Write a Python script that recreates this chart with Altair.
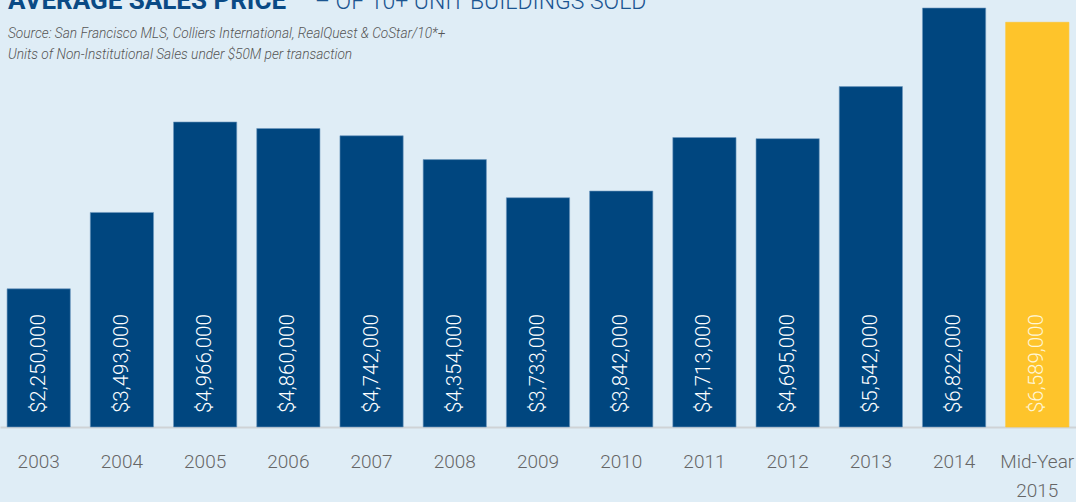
import altair as alt
import pandas as pd

categories = ["2003", "2004", "2005", "2006", "2007", "2008", "2009", "2010",
              "2011", "2012", "2013", "2014", "Mid-Year 2015"]
values = [2250000, 3493000, 4966000, 4860000, 4742000, 4354000, 3733000,
          3842000, 4713000, 4695000, 5542000, 6822000, 6589000]
labels = ["$" + format(v, ",") for v in values]

title_bold = "AVERAGE SALES PRICE"
title_light = "– OF 10+ UNIT BUILDINGS SOLD"
sub1 = "Source: San Francisco MLS, Colliers International, RealQuest & CoStar/10*+"
sub2 = "Units of Non-Institutional Sales under $50M per transaction"

df = pd.DataFrame({"cat": categories, "value": values, "label": labels})

BLUE = "#00467f"
YELLOW = "#fec42b"
BG = "#dfedf6"
is_mid = alt.datum.cat == "Mid-Year 2015"

x = alt.X("cat:N", sort=categories, title=None,
          scale=alt.Scale(paddingInner=0.24, paddingOuter=0.085),
          axis=alt.Axis(labelAngle=0, ticks=False, domainColor="#cfd3d6", domainWidth=2,
                        labelFont="Roboto", labelFontSize=19, labelColor="#666666",
                        labelPadding=25, labelLineHeight=29, labelFontWeight=300,
                        labelExpr="datum.label == 'Mid-Year 2015' ? ['Mid-Year', '2015'] : datum.label"))
yscale = alt.Scale(domain=[0, 6952000], nice=False, zero=True)

bars = alt.Chart(df).mark_bar(strokeWidth=0.6).encode(
    x=x,
    y=alt.Y("value:Q", scale=yscale, axis=None),
    color=alt.condition(is_mid, alt.value(YELLOW), alt.value(BLUE)),
    stroke=alt.condition(is_mid, alt.value(YELLOW), alt.value("#6f99c0")),
)

text = alt.Chart(df).mark_text(angle=270, align="left", baseline="middle", dx=14,
                               font="Roboto", fontSize=20.5, fontWeight=300).encode(
    x=alt.X("cat:N", sort=categories),
    y=alt.datum(0),
    text="label:N",
    color=alt.condition(is_mid, alt.value("#fff6d6"), alt.value("white")),
)

t1 = alt.Chart(pd.DataFrame({"t": [title_bold]})).mark_text(
    align="left", baseline="alphabetic", font="Roboto", fontSize=26, fontWeight="bold",
    color="#0a4a85").encode(x=alt.value(8), y=alt.value(9), text="t:N")
t2 = alt.Chart(pd.DataFrame({"t": [title_light]})).mark_text(
    align="left", baseline="alphabetic", font="Roboto", fontSize=23, fontWeight=300,
    color="#1b5591").encode(x=alt.value(315), y=alt.value(9), text="t:N")
s1 = alt.Chart(pd.DataFrame({"t": [sub1]})).mark_text(
    align="left", baseline="middle", font="Roboto", fontSize=13.7, fontWeight=300,
    fontStyle="italic", color="#555555").encode(x=alt.value(8), y=alt.value(34), text="t:N")
s2 = alt.Chart(pd.DataFrame({"t": [sub2]})).mark_text(
    align="left", baseline="middle", font="Roboto", fontSize=13.7, fontWeight=300,
    fontStyle="italic", color="#555555").encode(x=alt.value(8), y=alt.value(55), text="t:N")

chart = alt.layer(bars, text, t1, t2, s1, s2).properties(
    width=1076, height=427, background=BG,
    padding={"left": 0, "top": 0, "right": 0, "bottom": 75},
    autosize=alt.AutoSizeParams(type="none"),
).configure_view(stroke=None)

chart.save("out.html", embed_options={"renderer": "svg", "actions": False})
